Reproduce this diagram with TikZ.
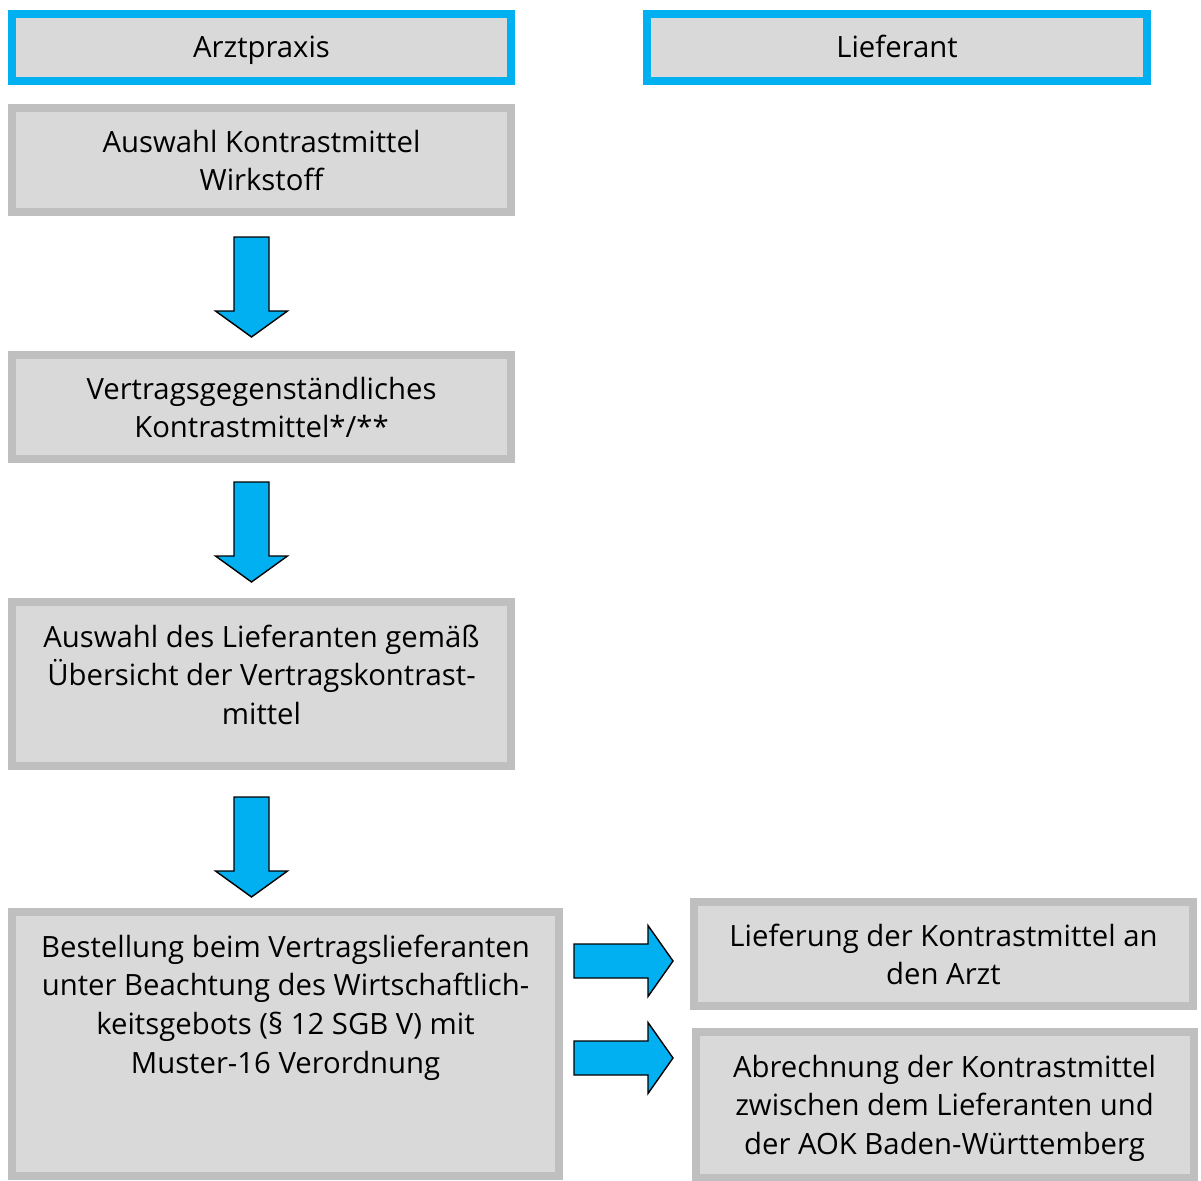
\documentclass[tikz,border=0pt]{standalone}
\usepackage{fontspec}
\setmainfont{Open Sans}
\definecolor{boxfill}{HTML}{D9D9D9}
\definecolor{boxline}{HTML}{BFBFBF}
\definecolor{hblue}{HTML}{00B0F0}
\tikzset{
  txt/.style={align=center, anchor=base, font=\fontsize{29.3}{38.8}\selectfont, text=black, inner sep=0pt},
  box/.style={draw=boxline, fill=boxfill, line width=8pt, inner sep=0pt},
  headbox/.style={box, draw=hblue},
  barrow/.style={draw=black, fill=hblue, line width=1.4pt, line join=miter},
  downarrow/.pic={\draw[barrow] (-17.5,0) -- (17.5,0) -- (17.5,74) -- (36,74) -- (0,100) -- (-36,74) -- (-17.5,74) -- cycle;},
  rightarrow/.pic={\draw[barrow] (0,-17) -- (74,-17) -- (74,-35.5) -- (99,0) -- (74,35.5) -- (74,17) -- (0,17) -- cycle;}
}
\begin{document}
\begin{tikzpicture}[x=1pt,y=-1pt]
\useasboundingbox (0,0) rectangle (1201,1180);
\fill[white] (0,0) rectangle (1201,1180);
% header boxes
\node[headbox, minimum width=499pt, minimum height=67pt] (arzt) at (261.5,47.5) {};
\node[txt] (tarzt) at (261.5,58) {Arztpraxis};
\node[headbox, minimum width=500pt, minimum height=67pt] (lief) at (897,47.5) {};
\node[txt] (tlief) at (897,58) {Lieferant};
% left column (text anchored at the baseline of its last line)
\node[box, minimum width=499pt, minimum height=104pt] (b1) at (261.5,160) {};
\node[txt] (t1) at (261.5,190.8) {Auswahl Kontrastmittel\\Wirkstoff};
\node[box, minimum width=499pt, minimum height=104pt] (b2) at (261.5,407) {};
\node[txt] (t2) at (261.5,437.8) {Vertragsgegenständliches\\Kontrastmittel*/**};
\node[box, minimum width=499pt, minimum height=164pt] (b3) at (261.5,684) {};
\node[txt] (t3) at (261.5,724.6) {Auswahl des Lieferanten gemäß\\Übersicht der Vertragskontrast-\\mittel};
\node[box, minimum width=547pt, minimum height=264pt] (b4) at (285.5,1044) {};
\node[txt] (t4) at (285.5,1073.4) {Bestellung beim Vertragslieferanten\\unter Beachtung des Wirtschaftlich-\\keitsgebots (§ 12 SGB V) mit\\Muster-16 Verordnung};
% right column
\node[box, minimum width=499pt, minimum height=104pt] (b5) at (943.5,953.5) {};
\node[txt] (t5) at (943.5,984.8) {Lieferung der Kontrastmittel an\\den Arzt};
\node[box, minimum width=498pt, minimum height=146pt] (b6) at (944.5,1105) {};
\node[txt] (t6) at (944.5,1154.6) {Abrechnung der Kontrastmittel\\zwischen dem Lieferanten und\\der AOK Baden-Württemberg};
% arrows
\pic at (251.5,237) {downarrow};
\pic at (251.5,482) {downarrow};
\pic at (251.5,797) {downarrow};
\pic at (574,961) {rightarrow};
\pic at (574,1058) {rightarrow};
\end{tikzpicture}
\end{document}
